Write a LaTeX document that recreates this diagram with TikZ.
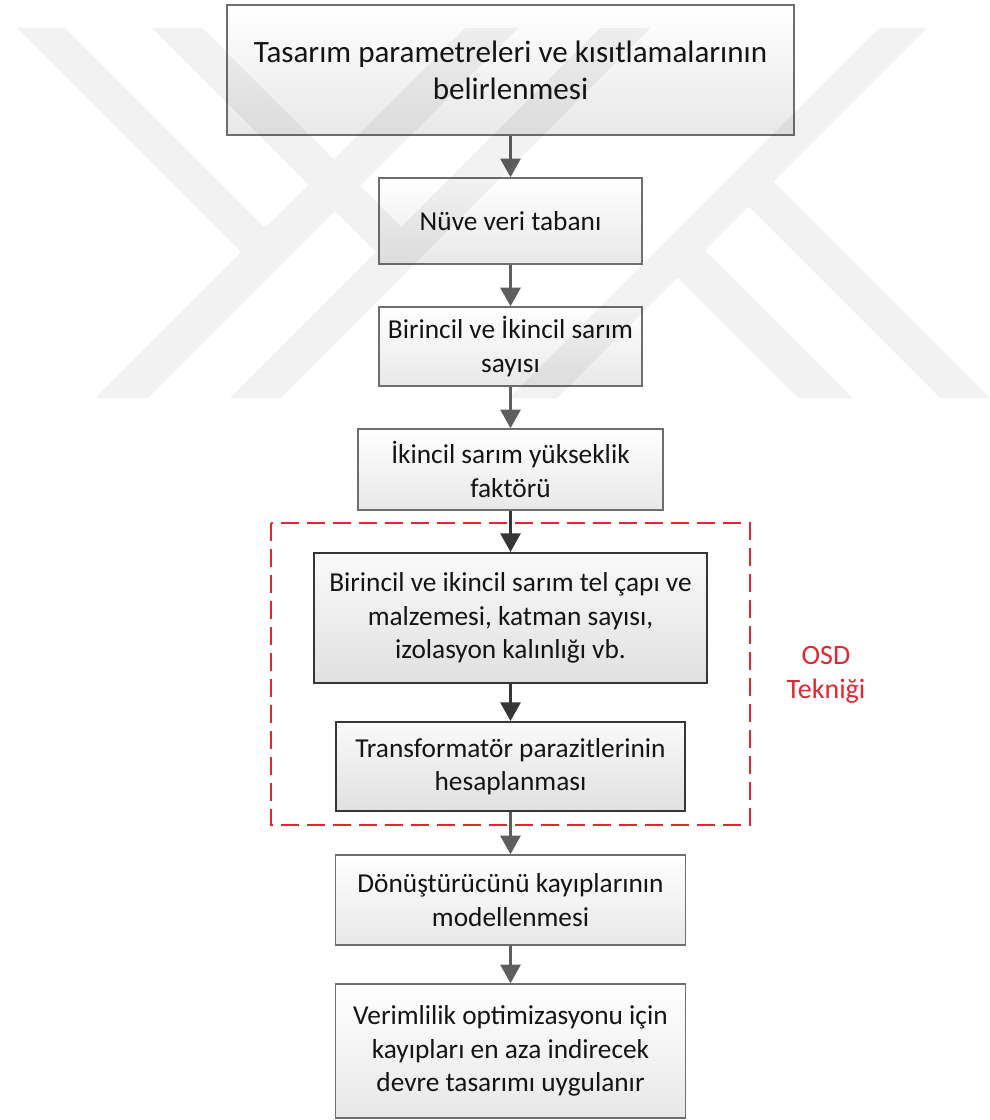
\documentclass[tikz,border=0pt]{standalone}
\usepackage{fontspec}
\setmainfont{Carlito}
\usetikzlibrary{arrows.meta}
\definecolor{boxline}{HTML}{6E6E6E}
\definecolor{darkline}{HTML}{363636}
\definecolor{arrowgray}{HTML}{5E5E5E}
\definecolor{txt}{HTML}{141414}
\definecolor{osdred}{HTML}{E3262F}
\tikzset{
  fbox/.style={draw=boxline, line width=1.1pt, top color=white, bottom color=black!9,
    inner sep=0pt, align=center, text=txt, font=\fontsize{20.5}{25}\selectfont},
  ibox/.style={fbox, draw=darkline, line width=1.5pt, top color=black!2, bottom color=black!12},
  garrow/.style={draw=arrowgray, line width=2.2pt, -{Triangle[width=15pt,length=14pt]}},
  darrow/.style={garrow, draw=darkline},
  osdframe/.style={draw=osdred, line width=1.5pt, dash pattern=on 13.5pt off 6pt},
  wmark/.style={fill=black, fill opacity=0.05}
}
\begin{document}
\begin{tikzpicture}[x=0.75pt,y=-0.75pt]
\useasboundingbox (0,0) rectangle (989,1120);
\fill[white] (0,0) rectangle (989,1120);

\node[fbox, minimum width=425.25pt, minimum height=97.5pt, font=\fontsize{23.3}{27.7}\selectfont] (b1) at (510.5,70)
  {Tasarım parametreleri ve kısıtlamalarının\\belirlenmesi};
\node[fbox, minimum width=197.25pt, minimum height=64.5pt] (b2) at (510.5,221) {Nüve veri tabanı};
\node[fbox, minimum width=197.25pt, minimum height=59.25pt] (b3) at (510.5,346.5) {Birincil ve İkincil sarım\\sayısı};
\node[fbox, minimum width=228.75pt, minimum height=60.75pt] (b4) at (510.5,469.5) {İkincil sarım yükseklik\\faktörü};
\node[ibox, minimum width=294.75pt, minimum height=97.5pt] (b5) at (510.5,618)
  {Birincil ve ikincil sarım tel çapı ve\\malzemesi, katman sayısı,\\izolasyon kalınlığı vb.};
\node[ibox, minimum width=261.75pt, minimum height=66.75pt] (b6) at (510.5,766.5) {Transformatör parazitlerinin\\hesaplanması};
\node[fbox, minimum width=262.5pt, minimum height=67.5pt] (b7) at (510.5,900) {Dönüştürücünü kayıplarının\\modellenmesi};
\node[fbox, minimum width=262.5pt, minimum height=100.5pt] (b8) at (510.5,1051)
  {Verimlilik optimizasyonu için\\kayıpları en aza indirecek\\devre tasarımı uygulanır};

\draw[osdframe] (271,523) rectangle (750,825);
\node[text=osdred, align=center, font=\fontsize{21}{25.5}\selectfont] (osd) at (826,675) {OSD\\Tekniği};

\draw[garrow] (b1.south) -- (b2.north);
\draw[garrow] (b2.south) -- (b3.north);
\draw[garrow] (b3.south) -- (b4.north);
\draw[darrow] (b4.south) -- (b5.north);
\draw[darrow] (b5.south) -- (b6.north);
\draw[garrow] (b6.south) -- (b7.north);
\draw[garrow] (b7.south) -- (b8.north);

\begin{scope}
\clip (0,0) rectangle (989,1120);
\fill[wmark]
  (17,28) -- (65,28) -- (291.5,254.5) -- (241,252) -- cycle
  (465,28) -- (518,28) -- (148,398) -- (95,398) -- cycle
  (152,28) -- (202,28) -- (426,252) -- (376,252) -- cycle
  (600,28) -- (650,28) -- (280,398) -- (230,398) -- cycle
  (879,28) -- (927,28) -- (557,398) -- (509,398) -- cycle
  (761.5,169.5) -- (990,398) -- (940,398) -- (736.5,194.5) -- cycle
  (692.5,238.5) -- (852,398) -- (798,398) -- (665.5,265.5) -- cycle;
\end{scope}
\end{tikzpicture}
\end{document}
